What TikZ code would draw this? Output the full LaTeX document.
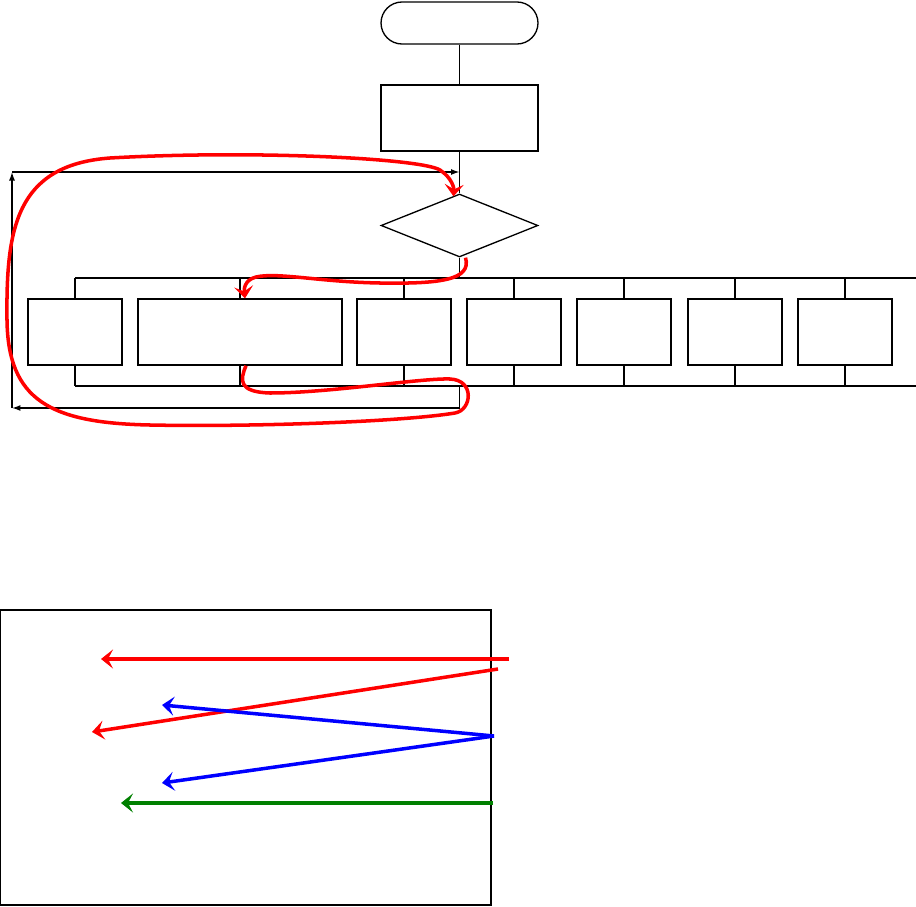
\documentclass[tikz,border=0pt]{standalone}
\usepackage{tikz}
\usetikzlibrary{arrows.meta,positioning,shapes,calc}
\definecolor{ink}{HTML}{000000}
\definecolor{accentred}{HTML}{FF0000}
\definecolor{accentblue}{HTML}{0000FF}
\definecolor{accentgreen}{HTML}{008000}
\tikzset{
  termcard/.style={draw=ink,fill=white,line width=0.75pt,rounded corners=0.42cm,
                   minimum width=3.14cm,minimum height=0.84cm,inner sep=0pt},
  boxcard/.style={draw=ink,fill=white,line width=0.75pt,
                  minimum width=1.88cm,minimum height=1.32cm,inner sep=0pt},
  decidecard/.style={diamond,draw=ink,fill=white,line width=0.75pt,
                     minimum width=3.14cm,minimum height=1.26cm,inner sep=0pt},
  panelbox/.style={draw=ink,line width=0.75pt,
                   minimum width=9.82cm,minimum height=5.9cm,inner sep=0pt},
  flowline/.style={line width=0.75pt,draw=ink},
  flowarr/.style={-{Latex[length=1.7mm,width=1.2mm]},line width=0.75pt,draw=ink},
  redarr/.style={-{Stealth[length=2.4mm,width=3.8mm,inset=1mm]},line width=2pt,
                 draw=accentred},
  bluearr/.style={-{Stealth[length=2.4mm,width=3.8mm,inset=1mm]},line width=2pt,
                  draw=accentblue},
  greenarr/.style={-{Stealth[length=2.4mm,width=3.8mm,inset=1mm]},line width=2pt,
                   draw=accentgreen}
}
\begin{document}
\begin{tikzpicture}[x=0.02cm,y=-0.02cm]
    \path[use as bounding box] (0,0) rectangle (916,906);

    \node[termcard] (start) at (459.5,23) {};
    \node[boxcard,minimum width=3.14cm] (init) at (459.5,118) {};
    \node[decidecard] (decide) at (459.5,225.5) {};

    \node[boxcard] (b1) at (75,332) {};
    \node[boxcard,minimum width=4.08cm] (b2) at (240,332) {};
    \node[boxcard] (b3) at (404,332) {};
    \node[boxcard] (b4) at (514,332) {};
    \node[boxcard] (b5) at (624,332) {};
    \node[boxcard] (b6) at (735,332) {};
    \node[boxcard] (b7) at (845,332) {};

    \coordinate (busTL) at (75,278);
    \coordinate (busTR) at (916,278);
    \coordinate (busBL) at (75,386);
    \coordinate (busBR) at (916,386);
    \coordinate (loopin) at (459.5,172);
    \coordinate (loopout) at (459.5,408);
    \coordinate (loopBL) at (12,408);
    \coordinate (loopTL) at (12,172);

    \draw[flowline] (start) -- (init);
    \draw[flowline] (init) -- (decide);
    \draw[flowline] (decide) -- (decide |- busTL);
    \draw[flowline] (busTL) -- (busTR);
    \draw[flowline] (busBL) -- (busBR);
    \foreach \b in {b1,b2,b3,b4,b5,b6,b7} {
      \draw[flowline] (\b.north) -- (\b.north |- busTL);
      \draw[flowline] (\b.south) -- (\b.south |- busBL);
    }
    \draw[flowline] (decide |- busBL) -- (loopout);
    \draw[flowarr] (loopout) -- (loopBL);
    \draw[flowarr] (loopBL) -- (loopTL);
    \draw[flowarr] (loopTL) -- (loopin);

    \draw[redarr] ($(decide.south)+(6,0)$)
      .. controls (472,280) and (440,284) .. (380,283)
      .. controls (320,282) and (278,272) .. (256,277)
      .. controls (244,280) and (244,290) .. ($(b2.north)+(5,0)$);
    \draw[redarr] ($(b2.south)+(6,0)$)
      .. controls (240,380) and (238,392) .. (270,393)
      .. controls (330,393) and (420,378) .. (450,379)
      .. controls (475,380) and (472,410) .. (455,413)
      .. controls (400,422) and (250,427) .. (150,425)
      .. controls (50,423) and (8,400) .. (7,320)
      .. controls (6,230) and (15,165) .. (110,158)
      .. controls (250,150) and (420,158) .. (440,170)
      .. controls (452,178) and (454,188) .. ($(decide.north)+(-6,3)$);

    \node[panelbox] (panel) at (245.5,757.5) {};
    \coordinate (red1s) at (509,659);
    \coordinate (red1e) at (101,659);
    \coordinate (red2s) at (498,669);
    \coordinate (red2e) at (92,732);
    \coordinate (blues) at (494,736);
    \coordinate (blue1e) at (162,705);
    \coordinate (blue2e) at (162,783);
    \coordinate (greens) at (493,803);
    \coordinate (greene) at (121,803);

    \draw[redarr] (red1s) -- (red1e);
    \draw[redarr] (red2s) -- (red2e);
    \draw[bluearr] (blues) -- (blue1e);
    \draw[bluearr] (blues) -- (blue2e);
    \draw[greenarr] (greens) -- (greene);
  \end{tikzpicture}
\end{document}
